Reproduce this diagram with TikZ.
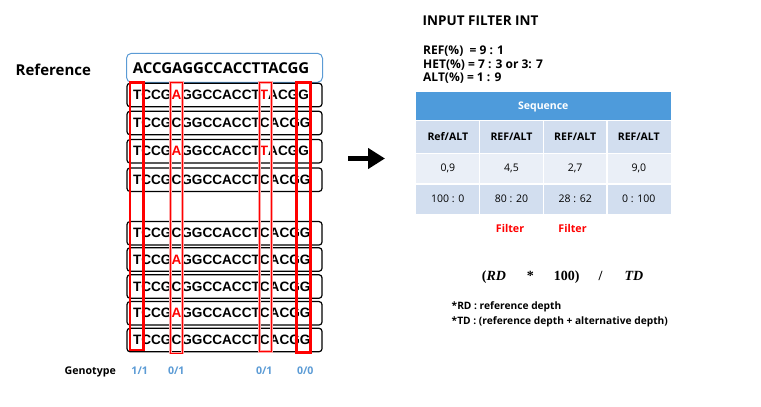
\documentclass[tikz,border=0pt]{standalone}
\usepackage{fontspec}
\setmainfont{Open Sans}
\newfontfamily\seqfont{Liberation Sans}
\newfontfamily\formfont{Liberation Serif}
\usetikzlibrary{arrows.meta}
\definecolor{headblue}{HTML}{4E9BDB}
\definecolor{bandA}{HTML}{D2DEEF}
\definecolor{bandB}{HTML}{EAEFF7}
\definecolor{gtblue}{HTML}{5B9BD5}
\definecolor{snpred}{HTML}{FF0000}
\newcommand{\alt}[1]{\textcolor{red}{#1}}
\begin{document}
\begin{tikzpicture}[x=1pt, y=-1pt,
          read box/.style={draw, line width=1.2pt, rounded corners=3pt, minimum height=23.5pt,
            inner xsep=6pt, inner ysep=0pt, text width=183pt, align=left,
            font=\seqfont\bfseries\fontsize{13.6}{15}\selectfont},
          ref box/.style={draw=gtblue, line width=1pt, rounded corners=5pt, minimum height=29pt,
            inner xsep=6.3pt, inner ysep=0pt, text width=183.4pt, align=left,
            font=\bfseries\fontsize{15}{17}\selectfont},
          snp wide/.style={draw=snpred, line width=2.7pt},
          snp halo/.style={draw=snpred!35, line width=2.6pt},
          snp thin/.style={draw=snpred, line width=1pt},
          gt label/.style={anchor=base, inner sep=0pt, text=gtblue, font=\bfseries\fontsize{10.6}{12}\selectfont},
          info/.style={anchor=base west, inner sep=0pt, font=\bfseries\fontsize{12}{14}\selectfont},
          note/.style={anchor=base west, inner sep=0pt, font=\bfseries\fontsize{10.2}{12}\selectfont},
          cell/.style={font=\fontsize{10.5}{12}\selectfont},
          filter/.style={anchor=base, inner sep=0pt, text=red, font=\bfseries\fontsize{10.7}{12}\selectfont}]
  \useasboundingbox (0,0) rectangle (761,407);
  \node[anchor=base west, inner sep=0pt, font=\bfseries\fontsize{15}{18}\selectfont] (reflabel) at (15.5,75.7) {Reference};
  \node[ref box] (refseq) at (224.5,67.8) {ACCGAGGCCACCTTACGG};
  \foreach \y/\s [count=\i] in {95/{TCCG\alt{A}GGCCACCT\alt{T}ACGG}, 123/{TCCGCGGCCACCTCACGG},
      151.3/{TCCG\alt{A}GGCCACCT\alt{T}ACGG}, 179.7/{TCCGCGGCCACCTCACGG},
      233.3/{TCCGCGGCCACCTCACGG}, 259.5/{TCCG\alt{A}GGCCACCTCACGG},
      286.5/{TCCGCGGCCACCTCACGG}, 313.3/{TCCG\alt{A}GGCCACCTCACGG}, 340/{TCCGCGGCCACCTCACGG}}{
      \node[read box] (read\i) at (224.5,\y) {\s};
  }
  \draw[snp wide] (130,82.3) rectangle (143.3,350);
  \foreach \xa/\xb/\yb in {170.7/182.7/353, 259.3/271.7/351.7}{
      \draw[snp halo] (\xa,82.3) rectangle (\xb,\yb);
      \draw[snp thin] (\xa,82.3) rectangle (\xb,\yb);
  }
  \draw[snp wide] (296.7,82.3) rectangle (310.7,352.7);
  \node[anchor=base west, inner sep=0pt, font=\bfseries\fontsize{10.6}{12}\selectfont] (gtname) at (64.5,374.5) {Genotype};
  \foreach \x/\g [count=\i] in {139.7/{1/1}, 176.3/{0/1}, 264.3/{0/1}, 305.3/{0/0}}{
      \node[gt label] (gt\i) at (\x,374.5) {\g};
  }
  \coordinate (arrtail) at (348,158.5);
  \coordinate (arrtip) at (385,158.5);
  \draw[line width=5pt, -{Triangle[length=17pt,width=20pt]}] (arrtail) -- (arrtip);
  \node[anchor=base west, inner sep=0pt, font=\bfseries\fontsize{13.5}{16}\selectfont] (title) at (422.5,25) {INPUT FILTER INT};
  \node[info] (refpct) at (423,54.5) {REF(\%) \ = 9 : 1};
  \node[info] (hetpct) at (423,68) {HET(\%) = 7 : 3 or 3: 7};
  \node[info] (altpct) at (423,81.5) {ALT(\%) = 1 : 9};
  \fill[headblue] (416,92.3) rectangle (670.7,120.7);
  \node[cell, font=\bfseries\fontsize{10.5}{12}\selectfont, text=white] (seqhead) at (543.3,106.5) {Sequence};
  \fill[bandA] (416,120.7) rectangle (670.7,153.3);
  \fill[bandB] (416,153.3) rectangle (670.7,184);
  \fill[bandA] (416,184) rectangle (670.7,214.3);
  \foreach \x in {479.7,543.3,607}{
      \draw[white, line width=1.5pt] (\x,120.7) -- (\x,214.3);
  }
  \foreach \y in {120.7,153.3,184}{
      \draw[white, line width=1.5pt] (416,\y) -- (670.7,\y);
  }
  \foreach \x/\a/\b/\c [count=\i] in {447.8/{Ref/ALT}/{0,9}/{100 : 0}, 511.5/{REF/ALT}/{4,5}/{80 : 20},
      575.2/{REF/ALT}/{2,7}/{28 : 62}, 638.8/{REF/ALT}/{9,0}/{0 : 100}}{
      \node[cell, font=\bfseries\fontsize{10.5}{12}\selectfont] (hd\i) at (\x,137) {\a};
      \node[cell] (val\i) at (\x,168.7) {\b};
      \node[cell] (pct\i) at (\x,199.2) {\c};
  }
  \node[filter] (filt2) at (510,232.3) {Filter};
  \node[filter] (filt3) at (572.5,232.3) {Filter};
  \node[anchor=base, inner sep=0pt, font=\formfont\bfseries\fontsize{14}{16}\selectfont] (ratio) at (562.5,280.5)
      {(\textit{RD}\hspace{21pt}*\hspace{20pt}100)\hspace{19pt}/\hspace{22pt}\textit{TD}};
  \node[note] (rdnote) at (451.5,309) {*RD : reference depth};
  \node[note] (tdnote) at (451.5,324) {*TD : (reference depth + alternative depth)};
\end{tikzpicture}
\end{document}
